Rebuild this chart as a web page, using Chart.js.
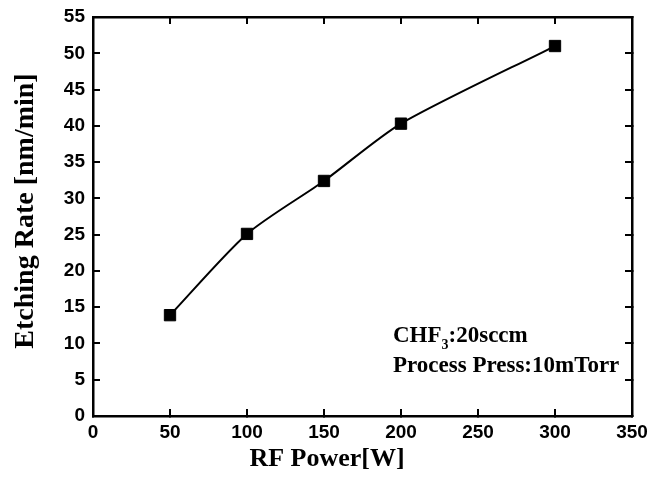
<!DOCTYPE html>
<html>
<head>
<meta charset="utf-8">
<script src="https://cdn.jsdelivr.net/npm/chart.js@4.4.1/dist/chart.umd.min.js"></script>
<style>
  html, body { margin: 0; padding: 0; background: #fff; }
  #wrap { position: relative; width: 648px; height: 489px; }
</style>
</head>
<body>
<div id="wrap"><canvas id="chart" width="648" height="489"></canvas></div>
<script>
// RF power [W] and measured etching rate [nm/min]
const rfPower = [50, 100, 150, 200, 300];
const etchRate = [13.9, 25.1, 32.4, 40.3, 51.0];

const xTicks = [0, 50, 100, 150, 200, 250, 300, 350];
const yTicks = [0, 5, 10, 15, 20, 25, 30, 35, 40, 45, 50, 55];

const xTitle = "RF Power[W]";
const yTitle = "Etching Rate [nm/min]";
const noteGas = ["CHF", "3", ":20sccm"];
const notePress = "Process Press:10mTorr";

const tickFont = { family: "'Liberation Sans', Arial, sans-serif", size: 19, weight: "bold" };
const serif = "'Liberation Serif', 'Times New Roman', serif";

// axis titles + condition note drawn straight on the canvas
const textPlugin = {
  id: "textPlugin",
  afterDraw(chart) {
    const { ctx, chartArea } = chart;
    ctx.save();
    ctx.fillStyle = "#000";

    // x title
    ctx.font = "bold 26px " + serif;
    ctx.textAlign = "center";
    ctx.textBaseline = "alphabetic";
    ctx.fillText(xTitle, 327, 466);

    // y title (rotated)
    ctx.font = "bold 28px " + serif;
    ctx.translate(33, 211);
    ctx.rotate(-Math.PI / 2);
    ctx.fillText(yTitle, 0, 0);
    ctx.setTransform(1, 0, 0, 1, 0, 0);

    // note
    const left = chartArea.left + 300;
    ctx.textAlign = "left";
    ctx.font = "bold 23px " + serif;
    let x = left;
    ctx.fillText(noteGas[0], x, 342);
    x += ctx.measureText(noteGas[0]).width;
    ctx.font = "bold 14px " + serif;
    ctx.fillText(noteGas[1], x, 349);
    x += ctx.measureText(noteGas[1]).width;
    ctx.font = "bold 23px " + serif;
    ctx.fillText(noteGas[2], x, 342);
    ctx.fillText(notePress, left, 372);
    ctx.restore();
  },
};

const borderOpts = { display: true, color: "#000", width: 2.5 };
const gridOpts = { drawOnChartArea: false, drawTicks: true, tickLength: -7, color: "#000", lineWidth: 2 };

// keep label overflow from pushing the plot area around
const noPad = (s) => {
  s.paddingTop = 0;
  s.paddingBottom = 0;
  s.paddingLeft = 0;
  s.paddingRight = 0;
};

new Chart(document.getElementById("chart"), {
  type: "line",
  data: {
    labels: rfPower,
    datasets: [
      {
        label: "Etching Rate",
        data: rfPower.map((p, i) => ({ x: p, y: etchRate[i] })),
        borderColor: "#000",
        borderWidth: 2,
        backgroundColor: "#000",
        pointStyle: "rect",
        pointRadius: 8,
        pointBorderWidth: 1,
        pointBackgroundColor: "#000",
        pointBorderColor: "#000",
        tension: 0.25,
        fill: false,
        xAxisID: "x",
        yAxisID: "y",
      },
    ],
  },
  options: {
    responsive: false,
    animation: false,
    layout: { padding: { left: 0, right: 16, top: 17, bottom: 0 } },
    plugins: {
      legend: { display: false },
      tooltip: { enabled: false },
    },
    scales: {
      x: {
        type: "linear",
        position: "bottom",
        min: 0,
        max: 350,
        afterBuildTicks: (s) => { s.ticks = xTicks.map((v) => ({ value: v })); },
        afterFit: (s) => { s.height = 73; noPad(s); },
        ticks: { color: "#000", font: tickFont, padding: 12, maxRotation: 0 },
        grid: gridOpts,
        border: borderOpts,
      },
      x2: {
        type: "linear",
        position: "top",
        min: 0,
        max: 350,
        afterBuildTicks: (s) => { s.ticks = xTicks.map((v) => ({ value: v })); },
        afterFit: (s) => { s.height = 0; noPad(s); },
        ticks: { display: false },
        grid: gridOpts,
        border: borderOpts,
      },
      y: {
        type: "linear",
        position: "left",
        min: 0,
        max: 55,
        afterBuildTicks: (s) => { s.ticks = yTicks.map((v) => ({ value: v })); },
        afterFit: (s) => { s.width = 93; noPad(s); },
        ticks: { color: "#000", font: tickFont, padding: 15 },
        grid: gridOpts,
        border: borderOpts,
      },
      y2: {
        type: "linear",
        position: "right",
        min: 0,
        max: 55,
        afterBuildTicks: (s) => { s.ticks = yTicks.map((v) => ({ value: v })); },
        afterFit: (s) => { s.width = 0; noPad(s); },
        ticks: { display: false },
        grid: gridOpts,
        border: borderOpts,
      },
    },
  },
  plugins: [textPlugin],
});
</script>
</body>
</html>
